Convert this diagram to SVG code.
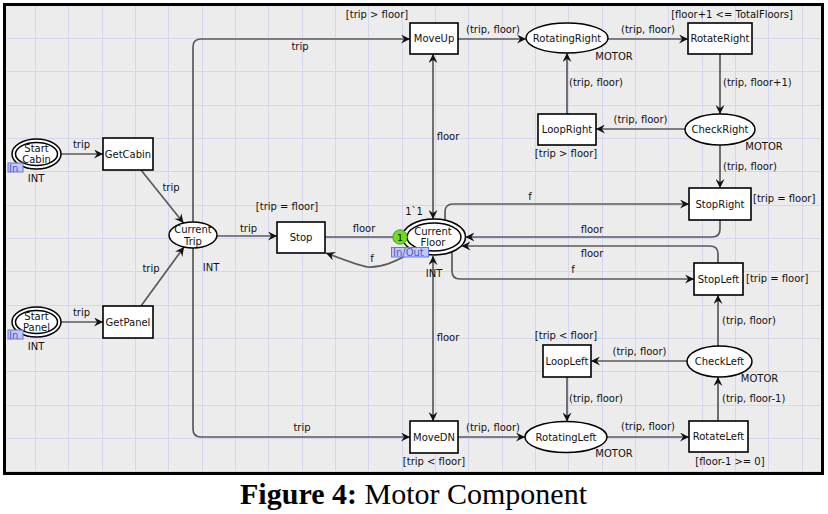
<svg xmlns="http://www.w3.org/2000/svg" width="828" height="514" viewBox="0 0 828 514">
<defs>
<style>
text{font-family:"DejaVu Sans","Verdana",sans-serif;font-size:10px;fill:#111}
.m{text-anchor:middle}
.s{text-anchor:start}
.tr{fill:#fff;stroke:#000;stroke-width:1.6}
.pl{fill:#fff;stroke:#000;stroke-width:1.5}
.arc{fill:none;stroke:#5a5a5a;stroke-width:1.7}
.arc.e{marker-end:url(#ah)}
.arc.b{marker-start:url(#ah);marker-end:url(#ah)}
.grid{stroke:#d5d5ee;stroke-width:1;fill:none}
.tag{fill:#c2c8f8;stroke:#6474dc;stroke-width:1}
.tagt{fill:#4a58c8;font-size:10px}
.cap{font-family:"Liberation Serif","Times New Roman",serif;font-size:30px;fill:#000}
</style>
<marker id="ah" viewBox="0 0 10 10" refX="10" refY="5" markerWidth="10" markerHeight="9" orient="auto-start-reverse" markerUnits="userSpaceOnUse">
<path d="M0,0 L10,5 L0,10 L3.5,5 z" fill="#111"/>
</marker>
</defs>
<rect x="0" y="0" width="828" height="514" fill="#fff"/>
<rect x="4.5" y="4.5" width="818" height="469" fill="#ececec"/>
<path class="grid" d="M35.5,6V472M68.5,6V472M102.5,6V472M135.5,6V472M168.5,6V472M202.5,6V472M235.5,6V472M268.5,6V472M302.5,6V472M335.5,6V472M368.5,6V472M402.5,6V472M435.5,6V472M468.5,6V472M502.5,6V472M535.5,6V472M568.5,6V472M602.5,6V472M635.5,6V472M668.5,6V472M702.5,6V472M735.5,6V472M768.5,6V472M802.5,6V472M6,38.5H821M6,71.5H821M6,105.5H821M6,138.5H821M6,171.5H821M6,205.5H821M6,238.5H821M6,271.5H821M6,305.5H821M6,338.5H821M6,371.5H821M6,405.5H821M6,438.5H821M6,471.5H821"/>
<rect x="4.5" y="4.5" width="818" height="469" fill="none" stroke="#000" stroke-width="3"/>

<g id="connectors">
<path class="arc e" d="M61,154 L103,154"/>
<path class="arc e" d="M61,322 L103,322"/>
<path class="arc e" d="M141,170 L183.5,223"/>
<path class="arc e" d="M141,306 L184,247"/>
<path class="arc e" d="M217,236 L277,236"/>
<path class="arc e" d="M193,222 L193,47 Q193,39 201,39 L410,39"/>
<path class="arc e" d="M193,248 L193,429 Q193,437 201,437 L410,437"/>
<path class="arc b" d="M433,54 L433,219"/>
<path class="arc b" d="M433,256 L433,421"/>
<path class="arc e" d="M325,237 L402,237"/>
<path class="arc e" d="M410,253 Q386,268 368,267 Q360,266 326,253"/>
<path class="arc e" d="M458,39 L526,39"/>
<path class="arc e" d="M608,39 L688,39"/>
<path class="arc e" d="M720,54 L720,114"/>
<path class="arc e" d="M685,129 L596,129"/>
<path class="arc e" d="M567,114 L567,53"/>
<path class="arc e" d="M720,145 L720,188"/>
<path class="arc e" d="M445,220 L445,212 Q445,204 453,204 L689,204"/>
<path class="arc e" d="M720,220 L720,229 Q720,237 712,237 L465.5,237"/>
<path class="arc e" d="M718,263 L718,254 Q718,246 710,246 L461.5,246"/>
<path class="arc e" d="M452,252 L452,271 Q452,279 460,279 L694,279"/>
<path class="arc e" d="M718,346 L718,295"/>
<path class="arc e" d="M687,361 L591,361"/>
<path class="arc e" d="M567,377 L567,421.5"/>
<path class="arc e" d="M458,437 L525,437"/>
<path class="arc e" d="M607,437 L689,437"/>
<path class="arc e" d="M718,421 L718,377"/>
<text class="m" x="81.5" y="148">trip</text>
<text class="m" x="81.5" y="316">trip</text>
<text class="m" x="171" y="191">trip</text>
<text class="m" x="151" y="272">trip</text>
<text class="m" x="248.5" y="232">trip</text>
<text class="m" x="300" y="50">trip</text>
<text class="m" x="302" y="431">trip</text>
<text class="m" x="448" y="140">floor</text>
<text class="m" x="448" y="341">floor</text>
<text class="m" x="364" y="232">floor</text>
<text class="m" x="372" y="262">f</text>
<text class="m" x="493" y="33">(trip, floor)</text>
<text class="m" x="648" y="33">(trip, floor)</text>
<text class="s" x="723" y="86">(trip, floor+1)</text>
<text class="m" x="596" y="86">(trip, floor)</text>
<text class="m" x="640.5" y="123">(trip, floor)</text>
<text class="s" x="723" y="170">(trip, floor)</text>
<text class="m" x="530" y="200">f</text>
<text class="m" x="592" y="233">floor</text>
<text class="m" x="592" y="257">floor</text>
<text class="m" x="573" y="273">f</text>
<text class="s" x="722" y="324">(trip, floor)</text>
<text class="m" x="639.5" y="355">(trip, floor)</text>
<text class="m" x="596" y="402">(trip, floor)</text>
<text class="s" x="722" y="402">(trip, floor-1)</text>
<text class="m" x="493" y="431">(trip, floor)</text>
<text class="m" x="648" y="430">(trip, floor)</text>
</g>

<g id="StartCabin">
<ellipse class="pl" cx="36.5" cy="154" rx="24.5" ry="15"/>
<ellipse class="pl" cx="36.5" cy="154" rx="21" ry="11.5"/>
<text class="m" x="36.5" y="152">Start</text>
<text class="m" x="36.5" y="162.5">Cabin</text>
<rect class="tag" x="8" y="163" width="15" height="9"/>
<text class="tagt" x="9" y="171.5">In</text>
<text class="m" x="36" y="182">INT</text>
</g>
<g id="StartPanel">
<ellipse class="pl" cx="36.5" cy="322" rx="24.5" ry="15"/>
<ellipse class="pl" cx="36.5" cy="322" rx="21" ry="11.5"/>
<text class="m" x="36.5" y="320">Start</text>
<text class="m" x="36.5" y="330.5">Panel</text>
<rect class="tag" x="8" y="330" width="15" height="9"/>
<text class="tagt" x="9" y="338.5">In</text>
<text class="m" x="36" y="350">INT</text>
</g>
<g id="GetCabin">
<rect class="tr" x="103" y="138" width="50" height="32"/>
<text class="m" x="128" y="157.5">GetCabin</text>
</g>
<g id="GetPanel">
<rect class="tr" x="103" y="306" width="50" height="32"/>
<text class="m" x="128" y="325.5">GetPanel</text>
</g>
<g id="CurrentTrip">
<ellipse class="pl" cx="193" cy="235" rx="24" ry="13"/>
<text class="m" x="193" y="233">Current</text>
<text class="m" x="193" y="245">Trip</text>
<text class="m" x="211" y="271">INT</text>
</g>
<g id="Stop">
<rect class="tr" x="277" y="222" width="48" height="31"/>
<text class="m" x="301" y="241">Stop</text>
<text class="m" x="287" y="210">[trip = floor]</text>
</g>
<g id="CurrentFloor">
<ellipse class="pl" cx="434" cy="237" rx="31.5" ry="18"/>
<ellipse class="pl" cx="434" cy="237" rx="27" ry="14"/>
<text class="m" x="433" y="235">Current</text>
<text class="m" x="433" y="246">Floor</text>
<text class="m" x="414" y="215">1`1</text>
<circle cx="400" cy="237" r="7.2" fill="#6fdc1e" stroke="#4aa814" stroke-width="1"/>
<text class="m" x="400" y="240.5" style="font-size:9.5px">1</text>
<rect class="tag" x="391.5" y="247.5" width="37" height="9.5"/>
<text class="tagt" x="393" y="256">In/Out</text>
<text class="m" x="434" y="277">INT</text>
</g>
<g id="MoveUp">
<rect class="tr" x="410" y="23" width="48" height="31"/>
<text class="m" x="434" y="42">MoveUp</text>
<text class="m" x="377" y="18">[trip &gt; floor]</text>
</g>
<g id="MoveDN">
<rect class="tr" x="410" y="421" width="48" height="32"/>
<text class="m" x="434" y="440.5">MoveDN</text>
<text class="m" x="434" y="465">[trip &lt; floor]</text>
</g>
<g id="RotatingRight">
<ellipse class="pl" cx="567" cy="38" rx="41" ry="15"/>
<text class="m" x="567" y="41.5">RotatingRight</text>
<text class="m" x="614" y="60">MOTOR</text>
</g>
<g id="RotateRight">
<rect class="tr" x="688" y="23" width="64" height="31"/>
<text class="m" x="720" y="42">RotateRight</text>
<text class="m" x="732" y="18">[floor+1 &lt;= TotalFloors]</text>
</g>
<g id="CheckRight">
<ellipse class="pl" cx="720" cy="129.5" rx="35" ry="15.5"/>
<text class="m" x="720" y="133">CheckRight</text>
<text class="m" x="764" y="150">MOTOR</text>
</g>
<g id="LoopRight">
<rect class="tr" x="538" y="114" width="58" height="31"/>
<text class="m" x="567" y="133">LoopRight</text>
<text class="m" x="566" y="157">[trip &gt; floor]</text>
</g>
<g id="StopRight">
<rect class="tr" x="689" y="188" width="62" height="32"/>
<text class="m" x="720" y="207.5">StopRight</text>
<text class="s" x="753" y="202">[trip = floor]</text>
</g>
<g id="StopLeft">
<rect class="tr" x="694" y="263" width="49" height="32"/>
<text class="m" x="718.5" y="282.5">StopLeft</text>
<text class="s" x="746" y="282">[trip = floor]</text>
</g>
<g id="CheckLeft">
<ellipse class="pl" cx="719.5" cy="361.5" rx="32.5" ry="15.5"/>
<text class="m" x="719.5" y="365">CheckLeft</text>
<text class="m" x="759.5" y="382">MOTOR</text>
</g>
<g id="LoopLeft">
<rect class="tr" x="543" y="345" width="48" height="32"/>
<text class="m" x="567" y="364.5">LoopLeft</text>
<text class="m" x="566" y="339">[trip &lt; floor]</text>
</g>
<g id="RotatingLeft">
<ellipse class="pl" cx="566" cy="437" rx="41" ry="15.5"/>
<text class="m" x="566" y="440.5">RotatingLeft</text>
<text class="m" x="614" y="457">MOTOR</text>
</g>
<g id="RotateLeft">
<rect class="tr" x="689" y="421" width="59" height="31"/>
<text class="m" x="718.5" y="440">RotateLeft</text>
<text class="m" x="730" y="465">[floor-1 &gt;= 0]</text>
</g>
<g id="caption">
<text class="cap m" x="413.5" y="504"><tspan font-weight="bold">Figure 4:</tspan> Motor Component</text>
</g>
</svg>
